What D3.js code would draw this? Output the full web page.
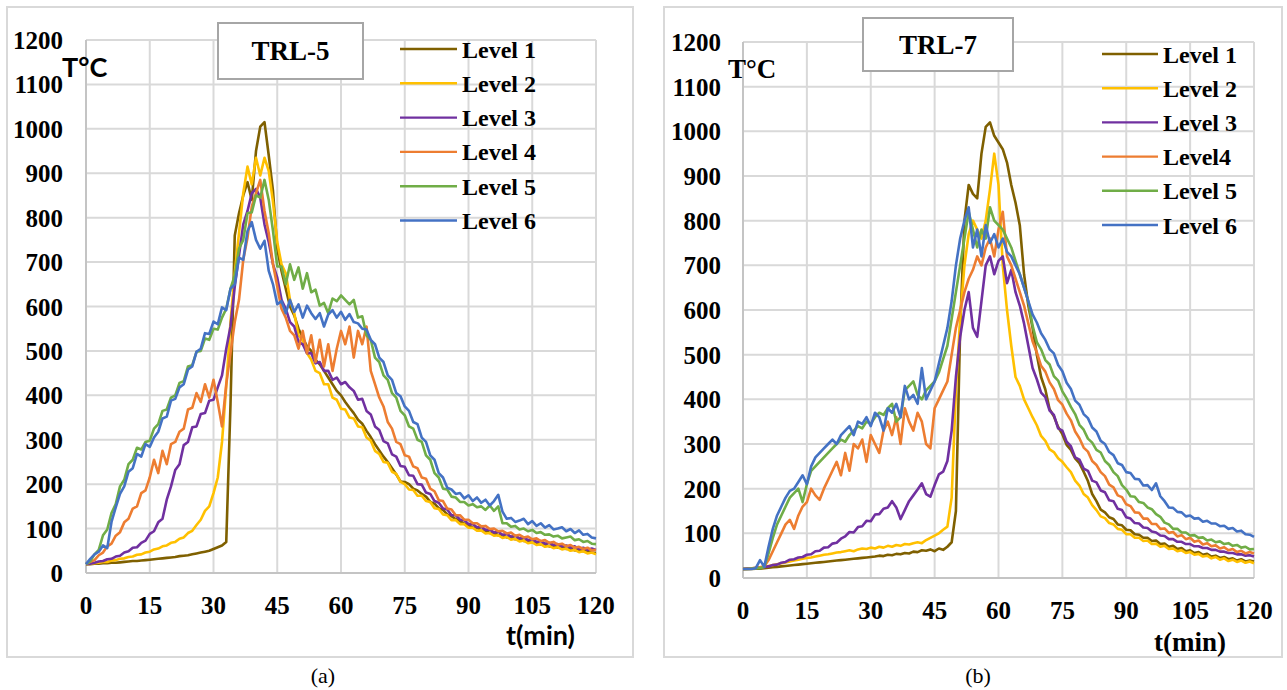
<!DOCTYPE html>
<html lang="en">
<head>
<meta charset="utf-8">
<title>TRL-5 / TRL-7 temperature curves</title>
<script src="https://cdn.jsdelivr.net/npm/d3@7/dist/d3.min.js"></script>
<style>
  body { margin: 0; background: #fff; }
  svg text { fill: #000; }
  .serif { font-family: "Liberation Serif", "Times New Roman", serif; font-weight: bold; }
  .sans { font-family: Lato, "Open Sans", sans-serif; font-weight: bold; }
</style>
</head>
<body>
<div id="chart"></div>
<script>
// sample times in minutes (one reading per minute)
var minutes = d3.range(0, 121);
var xTicks = [0, 15, 30, 45, 60, 75, 90, 105, 120];
var yTicks = [0, 100, 200, 300, 400, 500, 600, 700, 800, 900, 1000, 1100, 1200];
var colors = ["#7f6000", "#ffc000", "#7030a0", "#ed7d31", "#70ad47", "#4472c4"];
var namesA = ["Level 1", "Level 2", "Level 3", "Level 4", "Level 5", "Level 6"];
var namesB = ["Level 1", "Level 2", "Level 3", "Level4", "Level 5", "Level 6"];

// TRL-5 readings (degC), t = 0..120 min
var a_level1 = [20,20,21,21,22,22,23,23,24,25,26, 27,27,28,29,30,31,32,33,34,35, 36,38,39,40,42,44,46,48,50,54,
  58,62,70,380,760,810,850,880,840,950, 1005,1015,940,860,730,680,640,600,580,550, 530,510,500,480,470,455,440,425,410,400,
  385,372,360,345,336,320,306,290,276,262, 250,236,222,206,205,200,190,186,178,172, 160,156,146,142,132,128,121,117,111,108,
  102,102,96,95,90,90,85,85,80,80, 76,76,72,72,68,68,64,64,60,61, 57,58,54,55,51,52,49,49,46,45];
var a_level2 = [20,21,22,23,25,25,28,29,32,33,36, 37,41,42,46,48,53,55,60,62,68, 70,77,80,90,95,108,120,140,150,180,
  215,295,420,565,675,765,855,915,875,935, 895,935,905,835,745,695,675,615,585,535, 525,495,480,455,450,425,425,395,390,370,
  368,350,348,330,328,305,298,275,268,250, 248,228,223,205,200,188,187,174,174,162, 160,146,144,132,130,119,119,110,110,102,
  102,95,96,89,90,84,85,79,81,75, 77,71,73,67,69,63,65,59,61,56, 58,53,55,50,52,47,49,44,46,42];
var a_level3 = [20,21,23,26,27,31,32,37,39,46,49, 57,58,68,73,88,94,114,122,165,195, 232,245,288,295,328,330,358,360,388,390,
  418,445,505,555,645,715,785,815,855,865, 845,785,745,695,665,615,595,565,555,520, 515,495,495,472,475,455,455,435,440,425,
  430,418,410,390,392,365,357,330,322,297, 292,267,262,241,239,220,219,200,199,181, 178,162,158,145,143,130,130,120,119,110,
  110,103,104,97,98,91,93,86,88,82, 84,78,80,74,76,70,72,66,68,63, 65,60,62,57,60,54,57,52,55,52];
var a_level4 = [20,25,29,40,46,60,66,84,92,114,122, 145,150,180,186,215,255,225,275,245,290, 295,318,325,368,372,405,385,425,395,435,
  385,330,425,495,565,615,705,755,825,855, 885,815,765,695,645,595,575,545,535,505, 545,495,535,475,525,465,515,455,505,545,
  515,555,485,545,515,555,455,425,395,375, 340,325,295,290,265,262,240,236,215,212, 190,184,164,162,145,143,130,130,120,120,
  112,112,105,106,99,100,94,95,89,91, 84,86,80,82,76,78,72,74,68,70, 64,66,60,63,57,59,54,57,51,52];
var a_level5 = [20,26,42,52,85,98,135,155,195,210,245, 255,282,278,295,298,325,335,365,368,395, 400,428,432,465,468,498,500,528,525,550,
  548,575,595,640,670,730,750,810,812,850, 845,885,840,770,690,690,650,695,660,688, 640,675,632,638,602,608,585,618,612,625,
  615,605,615,575,578,535,525,485,475,445, 435,405,395,365,355,330,325,300,295,265, 255,225,215,190,188,172,170,160,160,152,
  155,148,150,142,152,140,150,112,112,104, 106,98,100,94,97,90,92,86,87,82, 84,78,80,82,74,76,70,72,66,65];
var a_level6 = [20,32,42,48,62,56,115,148,178,195,228, 236,268,262,290,284,305,318,348,352,388, 392,418,425,458,465,498,505,540,538,566,
  560,598,592,640,650,710,705,770,790,750, 730,748,680,650,605,612,585,615,588,605, 575,602,585,572,585,555,582,592,575,588,
  570,583,565,562,550,548,525,515,485,475, 445,435,405,398,375,365,340,335,305,295, 265,255,225,215,192,188,178,180,168,175,
  162,170,158,165,152,162,176,138,122,124, 115,118,122,110,117,106,112,102,108,98, 100,103,94,99,90,96,86,88,80,78];

// TRL-7 readings (degC), t = 0..120 min
var b_level1 = [20,20,20,21,21,22,23,24,25,26,27, 28,29,30,31,32,33,34,35,36,37, 38,39,40,41,42,43,44,45,46,47,
  48,50,49,52,51,54,53,56,55,59, 58,62,61,64,60,66,63,70,80,150, 560,800,880,860,850,950,1010,1020,990,975,
  960,930,880,840,790,680,610,560,500,450, 422,378,362,338,322,298,287,268,257,238, 217,188,172,153,147,136,132,120,118,108,
  107,98,97,90,90,83,84,76,77,70, 72,65,67,60,62,56,58,52,54,48, 50,45,47,42,44,39,42,37,39,37];
var b_level2 = [20,21,22,23,24,25,27,29,31,33,35, 37,39,41,43,45,46,48,50,52,53, 55,57,58,60,62,60,64,66,65,68,
  66,70,68,72,70,74,72,76,75,78, 80,78,85,90,95,100,108,115,180,420, 580,700,770,800,780,760,800,870,950,880,
  700,600,520,450,430,400,380,360,342,318, 307,288,282,268,260,248,237,218,207,188, 180,163,152,138,134,123,120,110,108,98,
  98,90,90,83,84,76,77,70,72,65, 66,60,62,56,58,52,54,48,50,44, 47,41,44,38,41,36,39,34,37,33];
var b_level3 = [20,21,21,23,23,25,26,29,30,34,36, 41,42,46,47,52,53,60,61,68,69, 77,79,88,93,103,102,114,116,128,127,
  142,143,155,158,172,158,132,152,172,185, 198,212,188,182,208,232,238,262,330,450, 540,600,640,560,540,620,700,720,680,710,
  720,660,690,640,610,570,520,470,445,415, 405,375,365,335,330,305,295,270,265,245, 240,218,214,196,192,174,172,155,152,136,
  133,123,122,113,112,104,102,95,94,87, 87,81,81,76,76,71,71,67,67,63, 63,59,59,56,56,53,53,50,51,48];
var b_level4 = [20,20,21,22,24,26,40,60,80,100,120, 130,110,140,160,170,200,185,175,200,220, 240,260,230,280,240,300,290,310,260,320,
  300,280,330,350,320,360,300,380,350,330, 370,350,300,290,380,400,420,440,500,560, 600,640,670,690,720,700,740,760,720,780,
  820,720,700,670,640,610,570,530,505,475, 462,438,423,398,388,368,353,328,313,292, 283,262,253,237,228,209,203,185,181,165,
  161,147,146,133,133,121,121,110,111,101, 103,93,96,87,90,81,84,75,78,71, 73,66,69,62,65,58,61,55,58,55];
var b_level5 = [20,20,21,22,22,25,55,90,120,140,160, 180,190,200,170,210,240,250,260,270,280, 290,300,310,305,320,330,340,335,350,345,
  360,370,365,380,390,350,360,420,430,440, 410,400,420,430,440,460,490,520,580,640, 700,760,820,780,740,780,760,830,800,790,
  780,760,740,710,680,650,620,565,528,512, 488,478,452,442,418,402,383,367,343,332, 312,303,287,281,262,253,237,228,208,198,
  183,182,170,168,158,154,143,137,124,120, 110,110,102,102,95,96,90,91,84,86, 80,82,76,78,72,74,68,70,64,65];
var b_level6 = [20,20,20,22,40,25,70,110,140,160,180, 195,200,215,230,210,250,270,280,290,300, 310,300,320,330,340,320,350,345,360,340,
  370,360,330,380,370,390,360,430,400,410, 390,470,400,420,440,480,520,560,620,700, 760,800,830,740,780,720,790,750,770,740,
  760,730,720,700,680,650,620,590,572,548, 533,512,503,477,463,437,423,397,388,367, 358,337,328,307,300,282,275,257,253,237,
  235,222,221,207,208,197,212,183,172,158, 157,148,147,138,140,133,134,126,128,122, 122,116,117,110,112,104,106,98,97,92];

var W = 1287, H = 690;
var svg = d3.select("#chart").append("svg").attr("width", W).attr("height", H);

var panels = [
  { frame: [7, 7, 626, 650], plot: [86, 40, 596, 573], series: [a_level1, a_level2, a_level3, a_level4, a_level5, a_level6],
    names: namesA, title: "TRL-5", titleBox: [218, 23, 145, 56], legend: [400, 457, 462, 49, 34.3],
    yLabelX: 63, xLabelY: 605, yTitle: { x: 62, y: 67, cls: "sans", size: 27 },
    xTitle: { x: 575, y: 635, cls: "sans", size: 27 }, caption: "(a)", captionX: 323 },
  { frame: [664, 7, 618, 650], plot: [743, 42, 1254, 578], series: [b_level1, b_level2, b_level3, b_level4, b_level5, b_level6],
    names: namesB, title: "TRL-7", titleBox: [863, 18, 150, 53], legend: [1102, 1158, 1163, 54, 34.2],
    yLabelX: 721, xLabelY: 610, yTitle: { x: 728, y: 68, cls: "serif", size: 27 },
    xTitle: { x: 1226, y: 641, cls: "serif", size: 27 }, caption: "(b)", captionX: 978 }
];

panels.forEach(function(p) {
  var g = svg.append("g");
  g.append("rect").attr("x", p.frame[0]).attr("y", p.frame[1]).attr("width", p.frame[2]).attr("height", p.frame[3])
    .attr("fill", "none").attr("stroke", "#d9d9d9").attr("stroke-width", 2);

  var x = d3.scaleLinear().domain([0, 120]).range([p.plot[0], p.plot[2]]);
  var y = d3.scaleLinear().domain([0, 1200]).range([p.plot[3], p.plot[1]]);

  // grid
  g.append("g").selectAll("line.h").data(yTicks).enter().append("line")
    .attr("x1", p.plot[0]).attr("x2", p.plot[2]).attr("y1", function(d) { return y(d); }).attr("y2", function(d) { return y(d); })
    .attr("stroke", "#d9d9d9").attr("stroke-width", 2);
  g.append("g").selectAll("line.v").data(xTicks).enter().append("line")
    .attr("y1", p.plot[1]).attr("y2", p.plot[3]).attr("x1", function(d) { return x(d); }).attr("x2", function(d) { return x(d); })
    .attr("stroke", "#d9d9d9").attr("stroke-width", 2);
  g.append("line").attr("x1", p.plot[0]).attr("x2", p.plot[0]).attr("y1", p.plot[1]).attr("y2", p.plot[3])
    .attr("stroke", "#c4c4c4").attr("stroke-width", 2);
  g.append("line").attr("x1", p.plot[0]).attr("x2", p.plot[2]).attr("y1", p.plot[3]).attr("y2", p.plot[3])
    .attr("stroke", "#c4c4c4").attr("stroke-width", 2);

  // tick labels
  g.selectAll("text.yt").data(yTicks).enter().append("text").attr("class", "serif")
    .attr("x", p.yLabelX).attr("y", function(d) { return y(d) + 9; }).attr("text-anchor", "end")
    .attr("font-size", 25).text(function(d) { return d; });
  g.selectAll("text.xt").data(xTicks).enter().append("text").attr("class", "serif")
    .attr("x", function(d) { return x(d); }).attr("y", p.xLabelY + 9).attr("text-anchor", "middle")
    .attr("font-size", 25).text(function(d) { return d; });

  // curves
  var line = d3.line().x(function(d, i) { return x(minutes[i]); }).y(function(d) { return y(d); });
  p.series.forEach(function(s, k) {
    g.append("path").datum(s).attr("d", line).attr("fill", "none")
      .attr("stroke", colors[k]).attr("stroke-width", 2.6).attr("stroke-linejoin", "round");
  });

  // title box
  g.append("rect").attr("x", p.titleBox[0]).attr("y", p.titleBox[1]).attr("width", p.titleBox[2]).attr("height", p.titleBox[3])
    .attr("fill", "#fff").attr("stroke", "#a6a6a6").attr("stroke-width", 2);
  g.append("text").attr("class", "serif").attr("x", p.titleBox[0] + p.titleBox[2] / 2).attr("y", p.titleBox[1] + p.titleBox[3] / 2 + 9)
    .attr("text-anchor", "middle").attr("font-size", 27).text(p.title);

  // legend
  var lg = g.append("g");
  p.names.forEach(function(n, k) {
    var ly = p.legend[3] + k * p.legend[4];
    lg.append("line").attr("x1", p.legend[0]).attr("x2", p.legend[1]).attr("y1", ly).attr("y2", ly)
      .attr("stroke", colors[k]).attr("stroke-width", 2.4);
    lg.append("text").attr("class", "serif").attr("x", p.legend[2]).attr("y", ly + 8.5)
      .attr("font-size", 24).text(n);
  });

  // axis titles
  g.append("text").attr("class", p.yTitle.cls).attr("x", p.yTitle.x).attr("y", p.yTitle.y + 10)
    .attr("font-size", p.yTitle.size).text("T°C");
  g.append("text").attr("class", p.xTitle.cls).attr("x", p.xTitle.x).attr("y", p.xTitle.y + 10)
    .attr("text-anchor", "end").attr("font-size", p.xTitle.size).text("t(min)");

  svg.append("text").attr("x", p.captionX).attr("y", 683).attr("text-anchor", "middle")
    .attr("font-family", "Liberation Serif, serif").attr("font-size", 22).text(p.caption);
});
</script>
</body>
</html>
